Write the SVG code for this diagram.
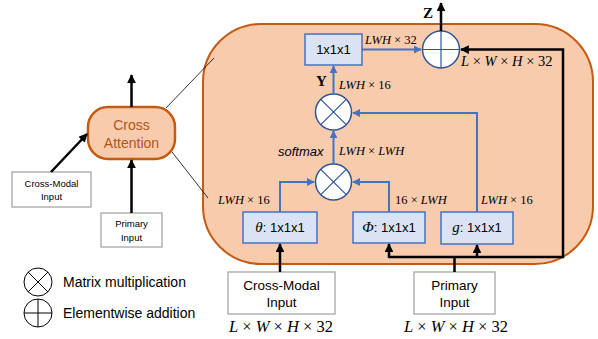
<svg xmlns="http://www.w3.org/2000/svg" width="598" height="339" viewBox="0 0 598 339">
<style>
.lbl{font-family:"Liberation Sans",Arial,sans-serif;fill:#000}
.math{font-family:"Liberation Serif","Times New Roman",serif;font-size:12.5px;fill:#000}
.it{font-style:italic}
.blue{stroke:#4472C4;stroke-width:2;fill:none}
.blk{stroke:#000;stroke-width:2.5;fill:none}
.box{fill:#DAE3F3;stroke:#4472C4;stroke-width:1.5}
.gbox{fill:#fff;stroke:#A6A6A6;stroke-width:1.3}
.op{fill:#fff;stroke:#2F5597;stroke-width:1.5}
.opl{stroke:#2F5597;stroke-width:1.2}
</style>
<defs>
<marker id="ab" viewBox="0 0 10 10" refX="9" refY="5" markerWidth="4" markerHeight="4" orient="auto" markerUnits="strokeWidth"><path d="M0,0L10,5L0,10z" fill="#4472C4"/></marker>
<marker id="ak" viewBox="0 0 10 10" refX="9" refY="5" markerWidth="3.5" markerHeight="3.5" orient="auto" markerUnits="strokeWidth"><path d="M0,0L10,5L0,10z" fill="#000"/></marker>
</defs>
<g id="container"><rect x="203" y="24" width="390" height="240" rx="58" ry="58" fill="#F8CBAD" stroke="#C55A11" stroke-width="2"/></g>
<g id="zoomlines"><line x1="166" y1="108" x2="214" y2="58" stroke="#000" stroke-width="0.8"/><line x1="172" y1="152" x2="208" y2="198" stroke="#000" stroke-width="0.8"/></g>
<g id="cross-attention"><rect x="88" y="107" width="87" height="52" rx="20" fill="#F8CBAD" stroke="#C55A11" stroke-width="2.5"/><text class="lbl" x="131.5" y="130" font-size="14" text-anchor="middle" style="fill:#B0561A">Cross</text><text class="lbl" x="131.5" y="148" font-size="14" text-anchor="middle" style="fill:#B0561A">Attention</text></g>
<g id="cm-small"><rect class="gbox" x="12" y="172" width="79" height="35"/><text class="lbl" x="51.5" y="187" font-size="9.5" text-anchor="middle">Cross-Modal</text><text class="lbl" x="51.5" y="200" font-size="9.5" text-anchor="middle">Input</text></g>
<g id="pi-small"><rect class="gbox" x="101" y="213" width="61" height="34"/><text class="lbl" x="131.5" y="227" font-size="9.5" text-anchor="middle">Primary</text><text class="lbl" x="131.5" y="241" font-size="9.5" text-anchor="middle">Input</text></g>
<g id="conv-top"><rect class="box" x="305" y="34" width="57" height="31"/><text class="lbl" x="333.5" y="54" font-size="13" text-anchor="middle">1x1x1</text></g>
<g id="theta"><rect class="box" x="243" y="212" width="74" height="31"/><text x="280" y="232" font-size="13" text-anchor="middle"><tspan class="math it" style="font-size:15px">θ</tspan><tspan class="lbl">: 1x1x1</tspan></text></g>
<g id="phi"><rect class="box" x="353" y="212" width="72" height="31"/><text x="389" y="232" font-size="13" text-anchor="middle"><tspan class="math it" style="font-size:15px">Φ</tspan><tspan class="lbl">: 1x1x1</tspan></text></g>
<g id="g"><rect class="box" x="441" y="212" width="72" height="32"/><text x="477" y="232" font-size="13" text-anchor="middle"><tspan class="math it" style="font-size:15px">g</tspan><tspan class="lbl">: 1x1x1</tspan></text></g>
<g id="mul-top"><circle class="op" cx="333.5" cy="112" r="18"/><line class="opl" x1="320.8" y1="99.3" x2="346.2" y2="124.7"/><line class="opl" x1="346.2" y1="99.3" x2="320.8" y2="124.7"/></g>
<g id="mul-bot"><circle class="op" cx="333.5" cy="182" r="18"/><line class="opl" x1="320.8" y1="169.3" x2="346.2" y2="194.7"/><line class="opl" x1="346.2" y1="169.3" x2="320.8" y2="194.7"/></g>
<g id="add"><circle class="op" cx="441" cy="49.5" r="18.5"/><line class="opl" x1="422.5" y1="49.5" x2="459.5" y2="49.5"/><line class="opl" x1="441" y1="31" x2="441" y2="68"/></g>
<g id="cm-input"><rect class="gbox" x="228" y="272" width="107" height="42"/><text class="lbl" x="281.5" y="290" font-size="13.5" text-anchor="middle">Cross-Modal</text><text class="lbl" x="281.5" y="307" font-size="13.5" text-anchor="middle">Input</text></g>
<g id="pi-input"><rect class="gbox" x="414" y="272" width="81" height="42"/><text class="lbl" x="454.5" y="290" font-size="13.5" text-anchor="middle">Primary</text><text class="lbl" x="454.5" y="307" font-size="13.5" text-anchor="middle">Input</text></g>
<g id="legend"><circle cx="38" cy="282" r="14" fill="#fff" stroke="#000" stroke-width="1"/><line x1="28.1" y1="272.1" x2="47.9" y2="291.9" stroke="#000" stroke-width="1"/><line x1="47.9" y1="272.1" x2="28.1" y2="291.9" stroke="#000" stroke-width="1"/><text class="lbl" x="63" y="287" font-size="14">Matrix multiplication</text><circle cx="38" cy="313" r="14" fill="#fff" stroke="#000" stroke-width="1"/><line x1="24" y1="313" x2="52" y2="313" stroke="#000" stroke-width="1"/><line x1="38" y1="299" x2="38" y2="327" stroke="#000" stroke-width="1"/><text class="lbl" x="63" y="318" font-size="14">Elementwise addition</text></g>
<g id="connectors">
<line class="blk" x1="131.5" y1="107" x2="131.5" y2="75" marker-end="url(#ak)"/>
<line class="blk" x1="51" y1="172" x2="87" y2="134" marker-end="url(#ak)"/>
<line class="blk" x1="131.5" y1="213" x2="131.5" y2="160" marker-end="url(#ak)"/>
<line class="blue" x1="362" y1="49.5" x2="421" y2="49.5" marker-end="url(#ab)"/>
<line class="blk" x1="441" y1="31" x2="441" y2="3" marker-end="url(#ak)"/>
<line class="blue" x1="333.5" y1="94" x2="333.5" y2="66" marker-end="url(#ab)"/>
<line class="blue" x1="333.5" y1="164" x2="333.5" y2="131" marker-end="url(#ab)"/>
<polyline class="blue" points="280,212 280,182 314,182" marker-end="url(#ab)"/>
<polyline class="blue" points="389,212 389,182 353,182" marker-end="url(#ab)"/>
<polyline class="blue" points="477,212 477,113 353,113" marker-end="url(#ab)"/>
<line class="blk" x1="280" y1="272" x2="280" y2="244" marker-end="url(#ak)"/>
<polyline class="blk" points="454.5,272 454.5,257"/>
<polyline class="blk" points="389,257 563,257 563,49.5 461,49.5" marker-end="url(#ak)" stroke-linejoin="miter"/>
<line class="blk" x1="389" y1="258" x2="389" y2="244" marker-end="url(#ak)"/>
<line class="blk" x1="477" y1="257" x2="477" y2="245" marker-end="url(#ak)"/>
</g>
<g id="labels">
<text class="math" x="365" y="44"><tspan class="it">LWH</tspan> × 32</text>
<text class="math" x="461" y="66" style="font-size:14.5px"><tspan class="it">L</tspan> × <tspan class="it">W</tspan> × <tspan class="it">H</tspan> × 32</text>
<text class="math" x="423" y="18" style="font-size:15px;font-weight:bold">Z</text>
<text class="math" x="316" y="86" style="font-size:15px;font-weight:bold">Y</text>
<text class="math" x="339" y="89"><tspan class="it">LWH</tspan> × 16</text>
<text class="lbl" x="278" y="156" font-size="13" font-style="italic">softmax</text>
<text class="math" x="339" y="155"><tspan class="it">LWH</tspan> × <tspan class="it">LWH</tspan></text>
<text class="math" x="218" y="204"><tspan class="it">LWH</tspan> × 16</text>
<text class="math" x="395" y="204">16 × <tspan class="it">LWH</tspan></text>
<text class="math" x="481" y="204"><tspan class="it">LWH</tspan> × 16</text>
<text class="math" x="281" y="332" text-anchor="middle" style="font-size:16.5px"><tspan class="it">L</tspan> × <tspan class="it">W</tspan> × <tspan class="it">H</tspan> × 32</text>
<text class="math" x="456" y="332" text-anchor="middle" style="font-size:16.5px"><tspan class="it">L</tspan> × <tspan class="it">W</tspan> × <tspan class="it">H</tspan> × 32</text>
</g>
</svg>
